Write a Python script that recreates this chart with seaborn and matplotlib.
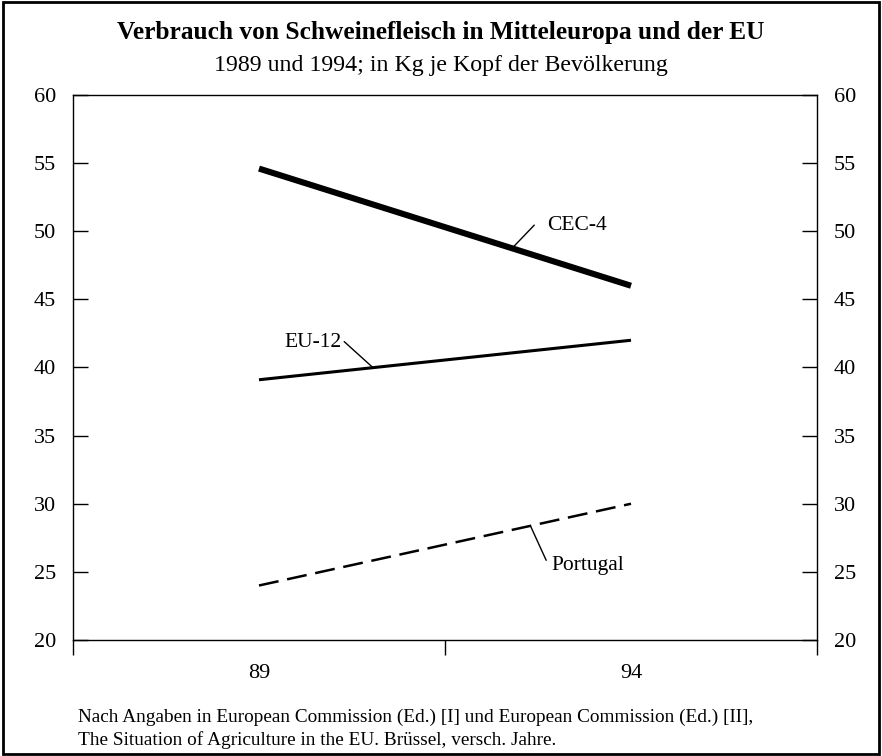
import matplotlib
matplotlib.use("Agg")
import matplotlib.pyplot as plt
import seaborn as sns
import pandas as pd
from matplotlib.patches import Rectangle

years = ["89", "94"]
cec4 = [54.6, 46.0]
eu12 = [39.1, 42.0]
portugal = [24.0, 30.0]

sns.set_theme(style="white")
plt.rcParams['font.family'] = ['Liberation Serif', 'DejaVu Serif']

fig = plt.figure(figsize=(8.82, 7.56), dpi=100)
ax = fig.add_axes([73/882, 1-640/756, (817-73)/882, (640-95)/756])

xpos = list(range(len(years)))
sns.lineplot(x=xpos, y=cec4, ax=ax, color="black", linewidth=4.4, solid_capstyle="butt")
sns.lineplot(x=xpos, y=eu12, ax=ax, color="black", linewidth=2.2, solid_capstyle="butt")
sns.lineplot(x=xpos, y=portugal, ax=ax, color="black", linewidth=1.8,
             linestyle=(0, (8, 3.5)))

ax.set_xlim(-0.5, len(years) - 0.5)
ax.set_ylim(20, 60)
ax.set_yticks(range(20, 61, 5))
ax.set_xticks([-0.5, 0.5, 1.5])
ax.set_xticklabels([])
ax.set_xticks(xpos, minor=True)
ax.set_xticklabels(years, minor=True)
ax.tick_params(axis='x', which='major', direction='out', length=11, width=1, color='black', bottom=True)
ax.tick_params(axis='x', which='minor', length=0, pad=17, labelsize=16, labelcolor='black')
ax.tick_params(axis='y', which='major', direction='in', length=11, width=1, color='black',
               left=True, right=True, labelleft=True, labelright=True, labelsize=16,
               labelcolor='black', pad=12)
for s in ax.spines.values():
    s.set_color('black')
    s.set_linewidth(1)
ax.set_xlabel("")
ax.set_ylabel("")

lead = dict(arrowstyle="-", color="black", lw=1, shrinkA=0, shrinkB=0)
lab = dict(fontsize=15.5, color="black", va="center")
# CEC-4
ax.annotate("", xy=(0.682, 48.8), xytext=(0.740, 50.45), arrowprops=lead)
ax.text(0.775, 50.4, "CEC-4", ha="left", **lab)
# EU-12
ax.annotate("", xy=(0.306, 40.0), xytext=(0.229, 41.9), arrowprops=lead)
ax.text(0.222, 41.85, "EU-12", ha="right", **lab)
# Portugal
ax.annotate("", xy=(0.731, 28.3), xytext=(0.772, 25.85), arrowprops=lead)
ax.text(0.785, 25.5, "Portugal", ha="left", **lab)

fig.text(0.5, 1-32/756, "Verbrauch von Schweinefleisch in Mitteleuropa und der EU",
         ha="center", va="center", fontsize=18.3, fontweight="bold", color="black")
fig.text(0.5, 1-66/756, "1989 und 1994; in Kg je Kopf der Bevölkerung",
         ha="center", va="center", fontsize=17.2, color="black")
fig.text(78/882, 1-717/756,
         "Nach Angaben in European Commission (Ed.) [I] und European Commission (Ed.) [II],",
         ha="left", va="center", fontsize=13.9, color="black")
fig.text(78/882, 1-740/756,
         "The Situation of Agriculture in the EU. Brüssel, versch. Jahre.",
         ha="left", va="center", fontsize=13.9, color="black")

fig.patches.append(Rectangle((0.003, 0.003), 0.994, 0.994, transform=fig.transFigure,
                             fill=False, edgecolor="black", linewidth=2))

fig.savefig("out.png", dpi=100)
